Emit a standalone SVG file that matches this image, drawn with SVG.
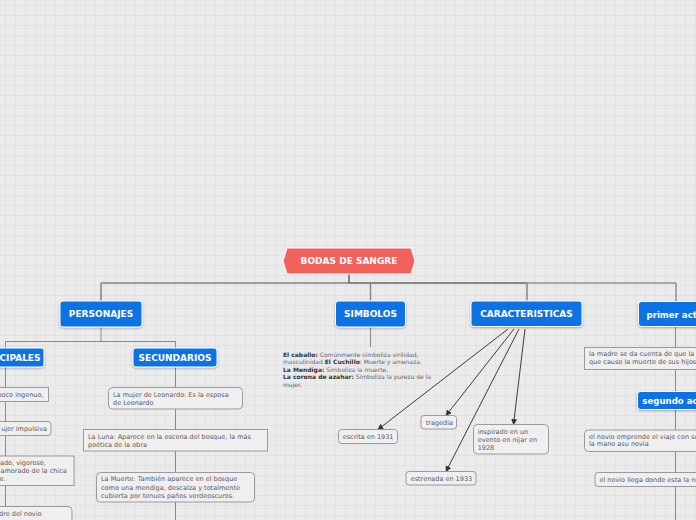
<svg xmlns="http://www.w3.org/2000/svg" width="696" height="520" viewBox="0 0 696 520">
<defs>
<pattern id="grid" width="10" height="10" patternUnits="userSpaceOnUse" x="5" y="5">
<rect width="10" height="10" fill="#ebebeb"/>
<path d="M0 0.5H10M0.5 0V10" stroke="#e2e2e2" stroke-width="1" fill="none"/>
</pattern>
<marker id="arr" viewBox="0 0 10 10" refX="9" refY="5" markerWidth="6" markerHeight="6" orient="auto" markerUnits="userSpaceOnUse">
<path d="M0 0L10 5L0 10z" fill="#333"/>
</marker>
<filter id="sh" x="-10%" y="-20%" width="120%" height="150%">
<feDropShadow dx="0" dy="1" stdDeviation="0.8" flood-color="#000" flood-opacity="0.3"/>
</filter>
</defs>
<style>
.blue{fill:#0b72e4;stroke:#fff;stroke-width:1}
.lbl{font-family:"DejaVu Sans",Verdana,sans-serif;font-weight:bold;font-size:9px;fill:#fff}
.box{fill:#efefef;stroke:#9a9a9a;stroke-width:1}
.t{font-family:"DejaVu Sans",Verdana,sans-serif;font-size:6.5px;fill:#5a5a5a}
.s{font-family:"DejaVu Sans",Verdana,sans-serif;font-size:6px;fill:#666}
.b{font-weight:bold;fill:#333}
.ln{fill:none;stroke:#888;stroke-width:1}
.ar{fill:none;stroke:#3d3d3d;stroke-width:1;marker-end:url(#arr)}
</style>
<rect width="696" height="520" fill="url(#grid)"/>

<g id="connectors">
<path d="M101 283H349" fill="none" stroke="#828282" stroke-width="1.5"/>
<path d="M349 283H527" fill="none" stroke="#666" stroke-width="1.5"/>
<path d="M527 283H676" fill="none" stroke="#929292" stroke-width="1.5"/>
<path d="M349 274V283" fill="none" stroke="#666" stroke-width="1.5"/>
<path d="M101 283V301" fill="none" stroke="#828282" stroke-width="1.5"/>
<path d="M370.5 283V301" fill="none" stroke="#888" stroke-width="1.5"/>
<path d="M527 283V301" fill="none" stroke="#888" stroke-width="1.5"/>
<path d="M676 283V301" fill="none" stroke="#929292" stroke-width="1.5"/>
<path class="ln" d="M101 327V341.5M5.5 341.5H175.5M5.5 341.5V348M175.5 341.5V348"/>
<path class="ln" d="M5.5 367V520"/>
<path class="ln" d="M175.5 367V520"/>
<path class="ln" d="M370.5 327V347"/>
<path class="ln" d="M675.5 326V520"/>
<path class="ar" d="M508 329L378 429.5"/>
<path class="ar" d="M514 329L446 415.5"/>
<path class="ar" d="M519 329L446 471.5"/>
<path class="ar" d="M525 329L513.5 424.5"/>
</g>

<g id="root">
<polygon points="283,261 287,248 411,248 415,261 411,274 287,274" fill="#f2625a" stroke="#fff" stroke-width="1"/>
<text class="lbl" x="349" y="264.3" text-anchor="middle">BODAS DE SANGRE</text>
</g>

<g id="personajes">
<rect class="blue" x="60" y="301" width="82" height="26" rx="3" filter="url(#sh)"/>
<text class="lbl" x="101" y="317.3" text-anchor="middle">PERSONAJES</text>
</g>
<g id="principales">
<rect class="blue" x="-30" y="348" width="74" height="19" rx="3" filter="url(#sh)"/>
<text class="lbl" x="40.5" y="360.8" text-anchor="end">CIPALES</text>
</g>
<g id="secundarios">
<rect class="blue" x="133" y="348" width="84" height="19" rx="3" filter="url(#sh)"/>
<text class="lbl" x="175" y="360.8" text-anchor="middle">SECUNDARIOS</text>
</g>

<g id="p1">
<rect class="box" x="-10" y="387.5" width="58.5" height="14"/>
<text class="t" x="43.5" y="396.5" text-anchor="end">poco ingenuo,</text>
</g>
<g id="p2">
<rect class="box" x="-10" y="421.5" width="61" height="14" rx="3"/>
<text class="t" x="47" y="430.7" text-anchor="end">ujer impulsiva</text>
</g>
<g id="p3">
<rect class="box" x="-10" y="456" width="84" height="29.5"/>
<text class="t" x="0" y="464.5">ado, vigoroso,</text>
<text class="t" x="0.5" y="472.5">amorado de la chica</text>
<text class="t" x="-0.5" y="480.5">e.</text>
</g>
<g id="p4">
<rect class="box" x="-10" y="506.5" width="82" height="30" rx="4"/>
<text class="t" x="41.5" y="515.5" text-anchor="end">dre del novio</text>
</g>

<g id="s1">
<rect class="box" x="108.5" y="387.5" width="134" height="21.5" rx="4"/>
<text class="t" x="113" y="396.5">La mujer de Leonardo: Es la esposa</text>
<text class="t" x="113" y="404.7">de Leonardo</text>
</g>
<g id="s2">
<rect class="box" x="83.5" y="429.5" width="184" height="21.5"/>
<text class="t" x="88" y="438.5">La Luna: Aparece en la escena del bosque, la más</text>
<text class="t" x="88" y="446.7">poética de la obra</text>
</g>
<g id="s3">
<rect class="box" x="96.5" y="472.5" width="158" height="29.5" rx="4"/>
<text class="t" x="101" y="481.3">La Muerte: También aparece en el bosque</text>
<text class="t" x="101" y="489.5">como una mendiga, descalza y totalmente</text>
<text class="t" x="101" y="497.7">cubierta por tenues paños verdeoscuros.</text>
</g>

<g id="simbolos">
<rect class="blue" x="335.5" y="301" width="70" height="26" rx="3" filter="url(#sh)"/>
<text class="lbl" x="370.5" y="317.3" text-anchor="middle">SIMBOLOS</text>
</g>
<g id="simbolos-text">
<text class="s" x="283" y="356.5"><tspan class="b">El caballo:</tspan> Comúnmente simboliza virilidad,</text>
<text class="s" x="283" y="364.1">masculinidad.<tspan class="b">El Cuchillo</tspan>: Muerte y amenaza.</text>
<text class="s" x="283" y="371.7"><tspan class="b">La Mendiga:</tspan> Simboliza la muerte.</text>
<text class="s" x="283" y="379.3"><tspan class="b">La corona de azahar:</tspan> Simboliza la pureza de la</text>
<text class="s" x="283" y="386.9">mujer.</text>
</g>

<g id="caracteristicas">
<rect class="blue" x="471" y="301" width="111" height="25.5" rx="3" filter="url(#sh)"/>
<text class="lbl" x="526.5" y="317.3" text-anchor="middle">CARACTERISTICAS</text>
</g>
<g id="c1">
<rect class="box" x="338.5" y="429.5" width="59" height="14" rx="3"/>
<text class="t" x="342.7" y="438.6">escrita en 1931</text>
</g>
<g id="c2">
<rect class="box" x="421" y="415.5" width="35.5" height="13.5" rx="3"/>
<text class="t" x="425.7" y="424.5">tragedia</text>
</g>
<g id="c3">
<rect class="box" x="406" y="471.5" width="70" height="13.5" rx="3"/>
<text class="t" x="410.7" y="480.7">estrenada en 1933</text>
</g>
<g id="c4">
<rect class="box" x="473.5" y="424.5" width="75" height="29.5" rx="4"/>
<text class="t" x="477.7" y="433.5">inspirado en un</text>
<text class="t" x="477.7" y="441.5">evento en nijar en</text>
<text class="t" x="477.7" y="449.5">1928</text>
</g>

<g id="primer-acto">
<rect class="blue" x="638.5" y="301.5" width="80" height="25" rx="3" filter="url(#sh)"/>
<text class="lbl" x="646.5" y="317.6" style="font-size:8.6px">primer acto</text>
</g>
<g id="a1">
<rect class="box" x="584.5" y="347.5" width="130" height="22"/>
<text class="t" x="589" y="356.3">la madre se da cuenta de que la</text>
<text class="t" x="589" y="364">que causo la muerte  de sus hijos</text>
</g>
<g id="segundo-acto">
<rect class="blue" x="637.5" y="391.5" width="80" height="18" rx="3" filter="url(#sh)"/>
<text class="lbl" x="642.3" y="403.6" style="font-size:8.6px">segundo acto</text>
</g>
<g id="a2">
<rect class="box" x="584.5" y="430" width="130" height="21.5" rx="4"/>
<text class="t" x="589" y="438.6">el novio emprende el viaje con su</text>
<text class="t" x="589" y="446.4">la mano asu novia</text>
</g>
<g id="a3">
<rect class="box" x="595" y="472.5" width="120" height="14" rx="3"/>
<text class="t" x="599.5" y="481.6">el novio llega donde esta la no</text>
</g>
</svg>
